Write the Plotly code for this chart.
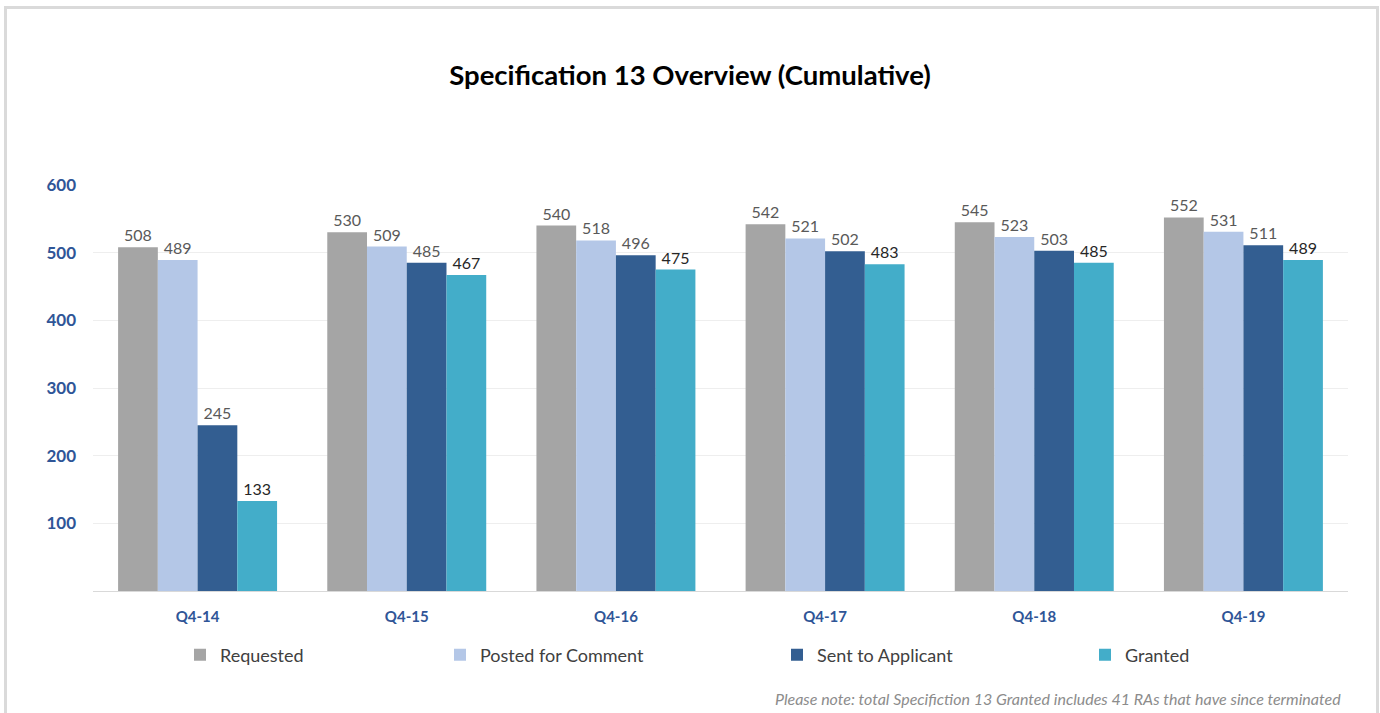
import plotly.graph_objects as go

categories = ["Q4-14", "Q4-15", "Q4-16", "Q4-17", "Q4-18", "Q4-19"]
requested = [508, 530, 540, 542, 545, 552]
posted = [489, 509, 518, 521, 523, 531]
sent = [245, 485, 496, 502, 503, 511]
granted = [133, 467, 475, 483, 485, 489]
y_ticks = [100, 200, 300, 400, 500, 600]

series = [
    ("Requested", requested, "#A5A5A5", "#595959", "legend"),
    ("Posted for Comment", posted, "#B4C7E7", "#595959", "legend2"),
    ("Sent to Applicant", sent, "#335E91", "#595959", "legend3"),
    ("Granted", granted, "#43ADC9", "#262626", "legend4"),
]

FONT = "Lato, 'Open Sans', sans-serif"

# plot area in pixels (for converting decorative positions)
L, R, T, B = 93, 32, 185, 122
W, H = 1380, 713
PW, PH = W - L - R, H - T - B


def px_x(px):
    return (px - L) / PW


def px_y(py):
    return (H - B - py) / PH


fig = go.Figure()
for name, vals, color, tcolor, leg in series:
    fig.add_trace(go.Bar(
        x=categories, y=vals, name=name, legend=leg,
        marker=dict(color=color, line=dict(width=0)),
        text=vals, textposition="outside", cliponaxis=False,
        textfont=dict(family=FONT, size=16, color=tcolor),
        hoverinfo="x+y+name",
    ))

legend_text_starts = [218, 478, 815, 1123]
legs = {}
for i, xs in enumerate(legend_text_starts):
    key = "legend" if i == 0 else f"legend{i+1}"
    legs[key] = dict(
        x=px_x(xs - 38), y=px_y(655), xanchor="left", yanchor="middle",
        orientation="h", bgcolor="rgba(0,0,0,0)", borderwidth=0,
        font=dict(family=FONT, size=18, color="#404040"),
        itemclick=False, itemdoubleclick=False,
    )

fig.update_layout(
    width=W, height=H,
    margin=dict(l=L, r=R, t=T, b=B, pad=0),
    paper_bgcolor="white", plot_bgcolor="white",
    barmode="group", bargap=0.24, bargroupgap=0,
    title=dict(text="<b>Specification 13 Overview (Cumulative)</b>",
               x=0.5, xref="container", xanchor="center",
               y=1 - 75 / H, yref="container", yanchor="middle",
               font=dict(family=FONT, size=27.5, color="#000000")),
    showlegend=True,
    **legs,
    xaxis=dict(
        showgrid=False, showline=True, linecolor="#D9D9D9", linewidth=1,
        ticks="", tickfont=dict(family=FONT, size=15, color="#2F5597", weight="bold"),
        ticklabelstandoff=12, fixedrange=True,
    ),
    yaxis=dict(
        range=[0, 600], tickvals=y_ticks, ticktext=[str(v) for v in y_ticks],
        showgrid=True, gridcolor="#EEEEEE", gridwidth=1, zeroline=False,
        showline=False, ticks="",
        tickfont=dict(family=FONT, size=17, color="#2F5597", weight="bold"),
        ticklabelstandoff=16, fixedrange=True,
    ),
    annotations=[dict(
        text="<i>Please note: total Specifiction 13 Granted includes 41 RAs that have since terminated</i>",
        xref="paper", yref="paper", x=px_x(1343), y=px_y(698.5),
        xanchor="right", yanchor="middle", showarrow=False,
        font=dict(family=FONT, size=16, color="#8C8C8C"),
    )],
    shapes=[dict(
        type="rect", xref="paper", yref="paper",
        x0=px_x(5.5), x1=px_x(1377.5), y0=px_y(740), y1=px_y(7.5),
        line=dict(color="#DADADA", width=3), fillcolor="rgba(0,0,0,0)",
        layer="below",
    )],
)

fig.write_html("out.html", config={"displayModeBar": False},
               post_script="document.body.style.margin='0px';")
